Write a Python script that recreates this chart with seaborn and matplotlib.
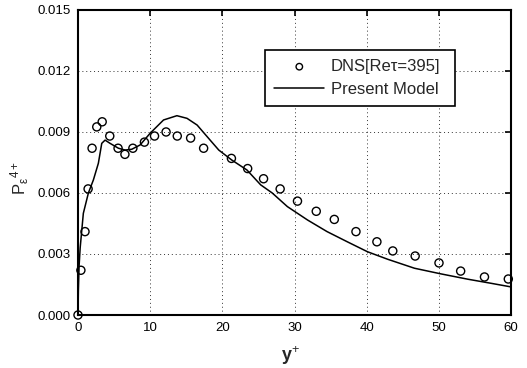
import matplotlib
matplotlib.use("Agg")
import matplotlib.pyplot as plt
import seaborn as sns
import pandas as pd
import numpy as np

# DNS data (circles)
dns_y = [0.0, 0.4, 0.97, 1.4, 1.95, 2.6, 3.35, 4.4, 5.55, 6.5, 7.6, 9.2, 10.6, 12.2,
         13.75, 15.6, 17.4, 21.25, 23.5, 25.7, 28.0, 30.4, 33.0, 35.5, 38.5, 41.4,
         43.6, 46.7, 50.0, 53.0, 56.3, 59.6]
dns_p = [0.0, 0.0022, 0.0041, 0.0062, 0.0082, 0.00925, 0.0095, 0.0088, 0.0082, 0.0079,
         0.0082, 0.0085, 0.0088, 0.0090, 0.0088, 0.0087, 0.0082, 0.0077, 0.0072, 0.0067,
         0.0062, 0.0056, 0.0051, 0.0047, 0.0041, 0.0036, 0.00315, 0.0029, 0.00256,
         0.00216, 0.00187, 0.00177]

# Present model (line)
mod_y = [0.0, 0.05, 0.15, 0.3, 0.74, 1.44, 2.13, 2.82, 3.29, 3.75, 4.44, 5.6, 6.53,
         7.45, 8.6, 10.0, 11.85, 13.7, 15.1, 16.5, 18.3, 19.5, 21.3, 23.4, 25.3, 26.9,
         29.0, 31.8, 34.5, 37.3, 40.1, 42.9, 46.6, 50.3, 54.0, 57.2, 60.0]
mod_p = [0.0, 0.0012, 0.0024, 0.0033, 0.0050, 0.0060, 0.00664, 0.00746, 0.00844, 0.0086,
         0.00844, 0.0082, 0.00811, 0.00815, 0.00836, 0.00894, 0.00959, 0.0098, 0.00967,
         0.00934, 0.0086, 0.00811, 0.00762, 0.00713, 0.0064, 0.0060, 0.00533, 0.00467,
         0.0041, 0.0036, 0.00311, 0.00274, 0.0023, 0.00202, 0.00176, 0.00156, 0.00138]

x_ticks = [0, 10, 20, 30, 40, 50, 60]
y_ticks = [0.000, 0.003, 0.006, 0.009, 0.012, 0.015]
y_tick_labels = ["0.000", "0.003", "0.006", "0.009", "0.012", "0.015"]

sns.set_theme(style="white")
plt.rcParams['font.family'] = ['Liberation Sans', 'DejaVu Sans']
plt.rcParams['mathtext.fontset'] = 'custom'
plt.rcParams['mathtext.rm'] = 'Liberation Sans'
plt.rcParams['mathtext.it'] = 'Liberation Sans'
plt.rcParams['mathtext.bf'] = 'Liberation Sans:bold'

fig = plt.figure(figsize=(5.27, 3.68), dpi=100)
ax = fig.add_axes([0.148, 0.144, 0.822, 0.829])

dns_df = pd.DataFrame({"y": dns_y, "p": dns_p})
mod_df = pd.DataFrame({"y": mod_y, "p": mod_p})

sns.lineplot(data=mod_df, x="y", y="p", ax=ax, color="black", linewidth=1.1,
             label="Present Model", sort=False, zorder=3)
sns.scatterplot(data=dns_df, x="y", y="p", ax=ax, marker="o", s=34,
                facecolor="none", edgecolor="black", linewidth=1.0,
                label="DNS[Re\u03c4=395]", zorder=4, clip_on=False)

ax.set_xlim(0, 60)
ax.set_ylim(0, 0.015)
ax.set_xticks(x_ticks)
ax.set_yticks(y_ticks)
ax.set_yticklabels(y_tick_labels)
ax.grid(True, linestyle=(0, (1, 3)), color="black", linewidth=0.7, alpha=0.8)
ax.tick_params(direction="in", top=True, right=True, length=4, width=1.2,
               labelsize=9.5, colors="black", pad=5)
for sp in ax.spines.values():
    sp.set_linewidth(1.5)
    sp.set_color("black")

ax.set_xlabel("y$^{+}$", fontsize=13, fontweight="bold")
ax.xaxis.set_label_coords(0.49, -0.095)
ax.set_ylabel("P$_{\\mathregular{\u03b5}}$$^{\\mathregular{4+}}$", fontsize=12)
ax.yaxis.set_label_coords(-0.108, 0.45)

handles, labels = ax.get_legend_handles_labels()
order = [1, 0]
leg = ax.legend([handles[i] for i in order], [labels[i] for i in order],
                loc="upper left", bbox_to_anchor=(0.432, 0.869, 0.438, 0.0),
                mode="expand", fontsize=12, markerscale=0.8,
                frameon=True, fancybox=False, edgecolor="black", framealpha=1,
                handlelength=3.0, borderpad=0.55, labelspacing=0.45, handletextpad=0.4,
                borderaxespad=0.0)
leg.get_frame().set_linewidth(1.2)
leg._legend_box.sep = 0
for vp in [leg._legend_handle_box]:
    pass
leg._legend_box.align = "left"

fig.savefig("out.png", dpi=100)
